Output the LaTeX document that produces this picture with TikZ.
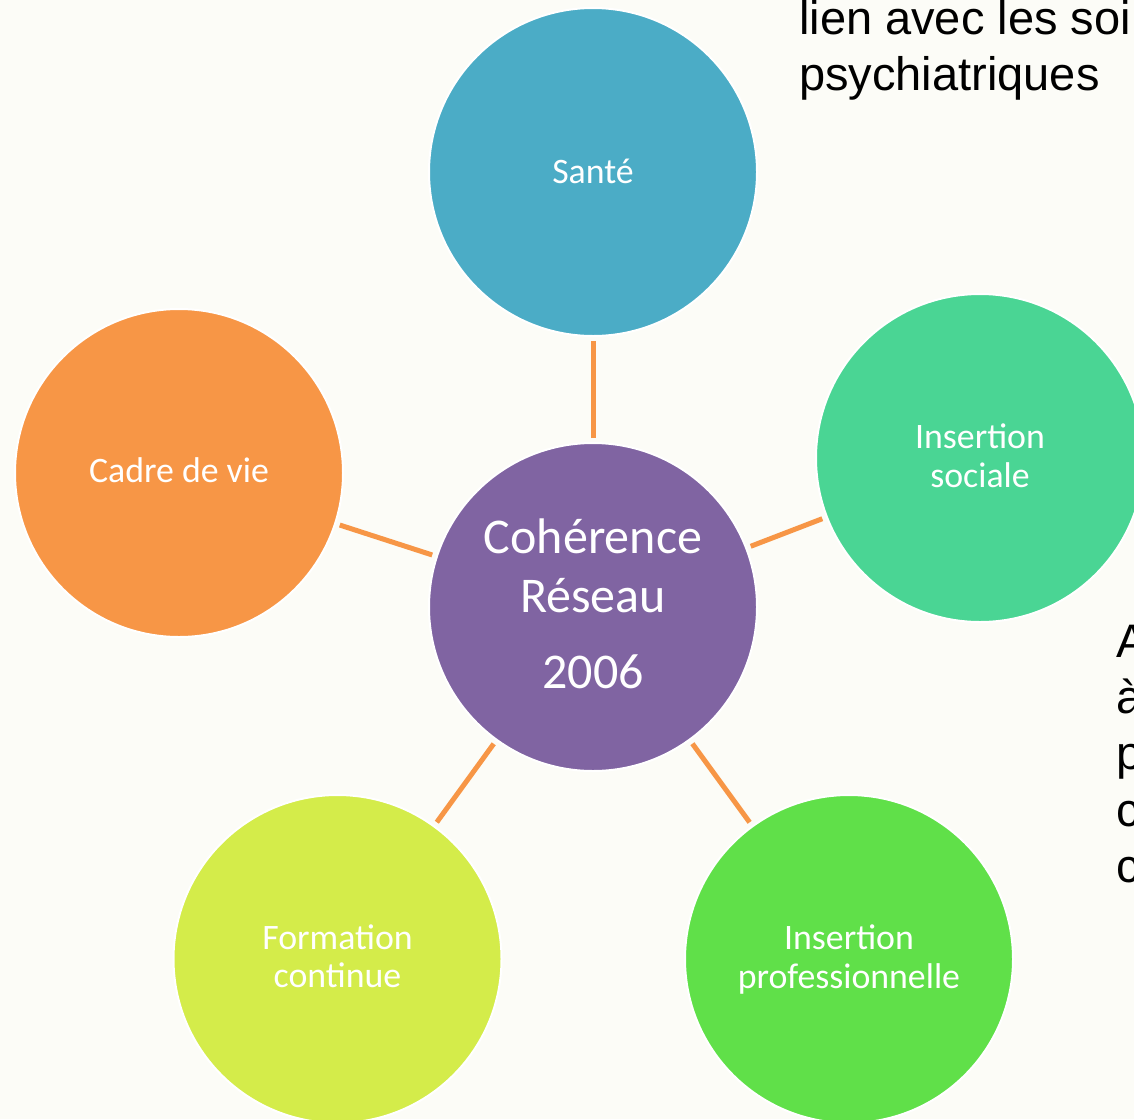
\documentclass[tikz,border=0pt]{standalone}
\usepackage{fontspec}
\setmainfont{Carlito}
\newfontfamily\sidefont{Liberation Sans}
\definecolor{bgcol}{HTML}{FCFCF7}
\definecolor{santecol}{HTML}{4BACC6}
\definecolor{reseaucol}{HTML}{8064A2}
\definecolor{sociacol}{HTML}{4AD594}
\definecolor{cadrecol}{HTML}{F79646}
\definecolor{formcol}{HTML}{D4EC4A}
\definecolor{procol}{HTML}{60E049}
\definecolor{linkcol}{HTML}{F79646}
\begin{document}
\begin{tikzpicture}[x=1pt,y=-1pt,
  bubble/.style={circle,minimum size=328pt,inner sep=0pt,outer sep=0pt,draw=white,line width=2pt},
  lbl/.style={inner sep=0pt,anchor=base,text=white,font=\fontsize{35.8}{42}\selectfont},
  hub/.style={inner sep=0pt,anchor=base,text=white,font=\fontsize{50}{59}\selectfont},
  side/.style={inner sep=0pt,anchor=base west,text=black,font=\sidefont\fontsize{47}{56}\selectfont},
  link/.style={draw=linkcol,line width=5pt,shorten >=5pt,shorten <=5pt}]
\useasboundingbox (0,0) rectangle (1134,1119);
\clip (0,0) rectangle (1134,1119);
\fill[bgcol] (0,0) rectangle (1134,1119);

% surrounding text
\node[side] (t1) at (799,34) {lien avec les soi};
\node[side] (t2) at (799,90) {psychiatriques};
\node[side] (r1) at (1116.5,657) {A};
\node[side] (r2) at (1116.5,713) {à};
\node[side] (r3) at (1116.5,769) {p};
\node[side] (r4) at (1116.5,826) {c};
\node[side] (r5) at (1116.5,882) {c};

% bubbles
\node[bubble,fill=reseaucol] (hubc) at (593,607) {};
\node[bubble,fill=santecol]  (sante) at (593,172) {};
\node[bubble,fill=sociacol]  (socia) at (980,458) {};
\node[bubble,fill=cadrecol]  (cadre) at (179,473) {};
\node[bubble,fill=formcol]   (form)  at (337.5,959) {};
\node[bubble,fill=procol]    (pro)   at (849,959) {};

% links from the hub
\draw[link] (hubc) -- (sante);
\draw[link] (hubc) -- (socia);
\draw[link] (hubc) -- (cadre);
\draw[link] (hubc) -- (form);
\draw[link] (hubc) -- (pro);

% labels
\node[hub] (h1) at (593,553) {Cohérence};
\node[hub] (h2) at (593,612) {Réseau};
\node[hub] (h3) at (593,688) {2006};
\node[lbl] (s1) at (593,183) {Santé};
\node[lbl] (c1) at (179,482) {Cadre de vie};
\node[lbl] (i1) at (980,448) {Insertion};
\node[lbl] (i2) at (980,487) {sociale};
\node[lbl] (f1) at (337.5,949) {Formation};
\node[lbl] (f2) at (337.5,987) {continue};
\node[lbl] (p1) at (849,949) {Insertion};
\node[lbl] (p2) at (849,988) {professionnelle};
\end{tikzpicture}
\end{document}
